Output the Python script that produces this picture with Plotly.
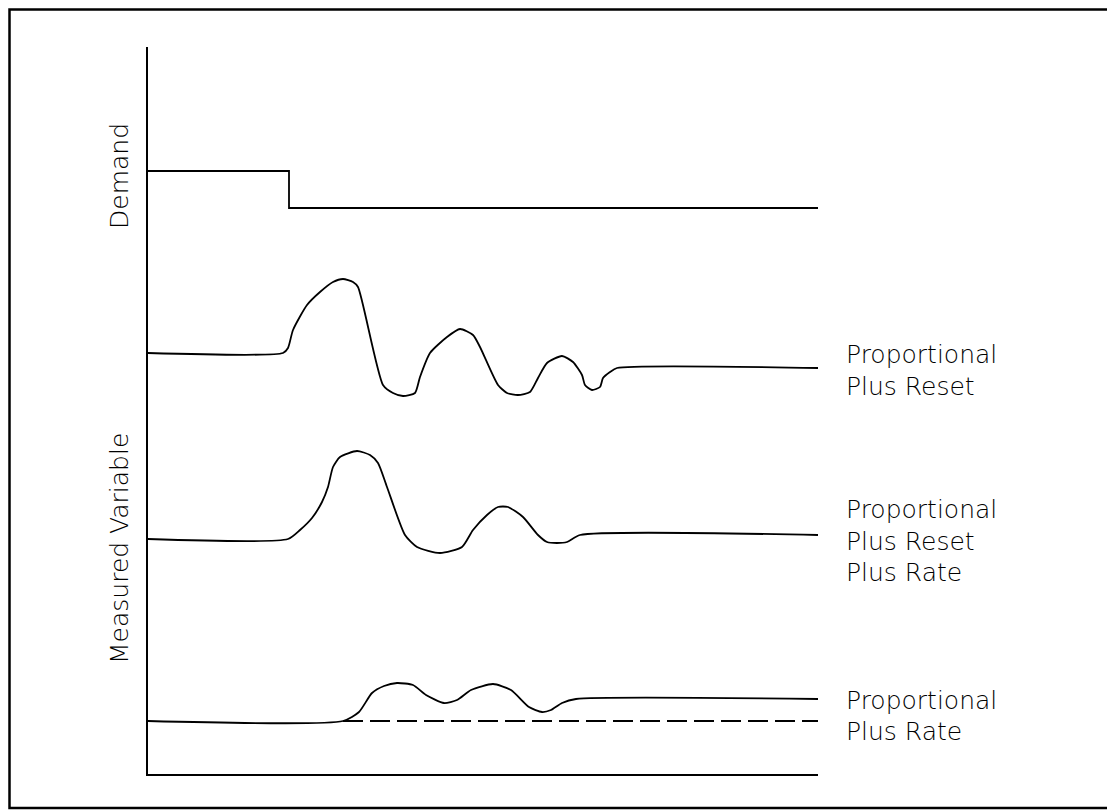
import plotly.graph_objects as go

# ---- data (time units along x, signal height above baseline along y) ----
demand_t = [0, 141, 670]
demand_y = [603, 566, 566]

ppr_t = [0, 135, 140, 145, 159, 172, 185, 195, 205, 210, 235, 245, 255, 267, 272, 282, 299, 312,
         325, 332, 350, 359, 370, 382, 390, 399, 414, 425, 434, 437, 444, 452, 455, 462, 469, 670]
ppr_y = [421, 421, 426, 444, 469, 482, 492, 495, 492, 487, 389, 381, 378, 381, 397, 421, 437, 445,
         439, 427, 389, 381, 379, 382, 396, 411, 418, 412, 399, 389, 384, 387, 396, 402, 406, 406]

pprr_t = [0, 140, 152, 164, 174, 180, 185, 192, 209, 222, 230, 239, 257, 269, 292, 314, 325, 339,
          350, 360, 375, 390, 399, 409, 419, 432, 670]
pprr_y = [235, 235, 244, 256, 272, 287, 307, 317, 323, 319, 311, 287, 239, 227, 221, 227, 244, 259,
          267, 267, 257, 239, 232, 231, 232, 239, 239]

pr_t = [0, 195, 211, 224, 236, 249, 265, 278, 296, 309, 323, 345, 363, 381, 394, 403, 414, 428, 670]
pr_y = [53, 53, 62, 81, 88, 91, 89, 79, 71, 74, 84, 90, 84, 67, 62, 64, 71, 75, 75]

ref_t = [195, 670]
ref_y = [53, 53]

labels_right = [
    ("Proportional", 420), ("Plus Reset", 388),
    ("Proportional", 265), ("Plus Reset", 233), ("Plus Rate", 202),
    ("Proportional", 74), ("Plus Rate", 43),
]
axis_labels = [("Demand", 598), ("Measured Variable", 226)]

FONT = "DejaVu Sans"
LW = 1.8

fig = go.Figure()
fig.add_trace(go.Scatter(x=demand_t, y=demand_y, mode="lines", line=dict(color="black", width=LW, shape="hv")))
for tt, yy in [(ppr_t, ppr_y), (pprr_t, pprr_y), (pr_t, pr_y)]:
    fig.add_trace(go.Scatter(x=tt, y=yy, mode="lines",
                             line=dict(color="black", width=LW, shape="spline", smoothing=0.6)))
fig.add_trace(go.Scatter(x=ref_t, y=ref_y, mode="lines",
                         line=dict(color="black", width=LW, dash="20px,7px")))

for txt, yv in labels_right:
    fig.add_annotation(x=1.0388, xref="paper", y=yv, yref="y", text=txt, showarrow=False,
                       xanchor="left", yanchor="middle",
                       font=dict(family=FONT, size=25, color="black", weight=300))
for txt, yv in axis_labels:
    fig.add_annotation(x=-0.0433, xref="paper", y=yv, yref="y", text=txt, showarrow=False,
                       textangle=-90, xanchor="center", yanchor="middle",
                       font=dict(family=FONT, size=25, color="black", weight=300))

# outer frame (page px 7..1112, 9..808; figure is drawn with an 8px page offset)
fig.add_shape(type="rect", xref="paper", yref="paper",
              x0=(1.5 - 140) / 670, x1=(1104 - 140) / 670,
              y0=(766 - 800) / 727, y1=(766 - 1.5) / 727,
              line=dict(color="black", width=2.5))

fig.update_xaxes(range=[0, 670], showline=True, linecolor="black", linewidth=1.8, showgrid=False,
                 zeroline=False, showticklabels=False, ticks="")
fig.update_yaxes(range=[0, 727], showline=True, linecolor="black", linewidth=1.8, showgrid=False,
                 zeroline=False, showticklabels=False, ticks="")
fig.update_layout(width=1107, height=804, margin=dict(l=140, r=297, t=39, b=38),
                  paper_bgcolor="white", plot_bgcolor="white", showlegend=False)
fig.write_html("out.html")
